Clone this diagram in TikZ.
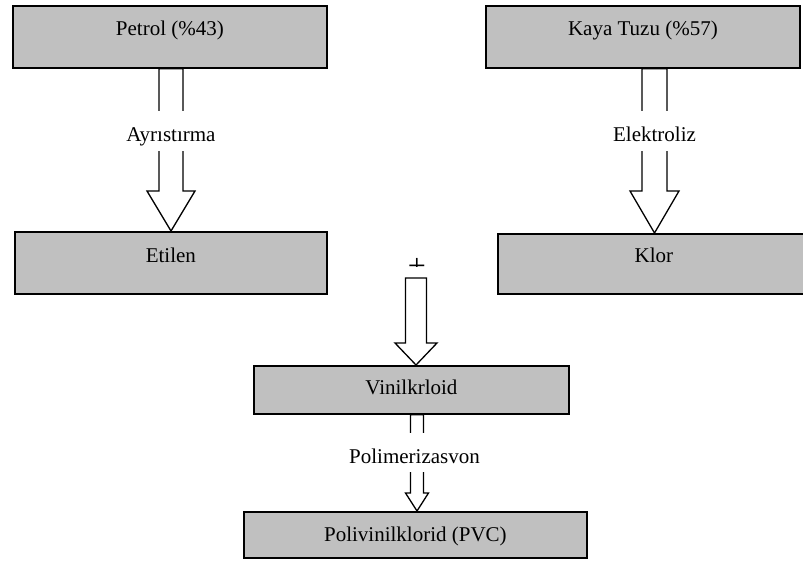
\documentclass[tikz,border=0pt]{standalone}
\usepackage{fontspec}
\setmainfont{Liberation Serif}
\usetikzlibrary{calc}
\definecolor{boxgray}{RGB}{192,192,192}
\tikzset{
  box/.style={draw=black, line width=1.8pt, fill=boxgray, anchor=north west, inner sep=0pt},
  boxtext/.style={anchor=base, inner sep=0pt, font=\fontsize{21}{25}\selectfont},
  steplabel/.style={anchor=base, inner sep=0pt, fill=white, text height=30pt, text depth=10pt, font=\fontsize{21}{25}\selectfont},
  blk/.style={draw=black, fill=white, line width=1.3pt, line join=miter},
}
% #1 top point, #2 tip point, #3 half shaft width, #4 half head width, #5 head length
\newcommand\blockarrow[5]{%
  \draw[blk] ($(#2|-#1)+(-#3,0)$) -- ($(#2)+(-#3,-#5)$) -- ($(#2)+(-#4,-#5)$) -- (#2)
    -- ($(#2)+(#4,-#5)$) -- ($(#2)+(#3,-#5)$) -- ($(#2|-#1)+(#3,0)$) -- cycle;}
\begin{document}
\begin{tikzpicture}[x=1pt, y=-1pt]
\useasboundingbox (0,0) rectangle (803,561);
\clip (0,0) rectangle (803,561);
% boxes
\node[box, minimum width=314pt, minimum height=62pt] (petrol) at (12,5) {};
\node[box, minimum width=312pt, minimum height=62pt] (etilen) at (14,231) {};
\node[box, minimum width=314pt, minimum height=62pt] (kaya) at (485,5) {};
\node[box, minimum width=312pt, minimum height=60pt] (klor) at (497,233) {};
\node[box, minimum width=315pt, minimum height=48pt] (vinil) at (253,365) {};
\node[box, minimum width=343pt, minimum height=46pt] (pvc) at (243,511) {};
% box texts
\node[boxtext] (petrolT) at ([yshift=-31pt]petrol.north) {Petrol (\%43)};
\node[boxtext] (etilenT) at ([yshift=-32pt]etilen.north) {Etilen};
\node[boxtext] (kayaT) at ([yshift=-31pt]kaya.north) {Kaya Tuzu (\%57)};
\node[boxtext] (klorT) at ([yshift=-30pt]klor.north) {Klor};
\node[boxtext] (vinilT) at ([yshift=-29pt]vinil.north) {Vinilkrloid};
\node[boxtext] (pvcT) at ([yshift=-30pt]pvc.north) {Polivinilklorid (PVC)};
% arrow tips and free end
\coordinate (tip1) at (171,231);
\coordinate (tip2) at (654.5,233);
\coordinate (top3) at (416,278);
\coordinate (tip3) at (416,365);
\coordinate (tip4) at (417,511);
% arrows
\blockarrow{petrol.south}{tip1}{12}{24}{40}
\blockarrow{kaya.south}{tip2}{12.5}{24.5}{42}
\blockarrow{top3}{tip3}{10.5}{21}{22}
\blockarrow{vinil.south}{tip4}{6.5}{11.5}{18}
% step labels
\node[steplabel, text height=31pt, text depth=9pt] (ayr) at (171,142) {Ayrıstırma};
\node[steplabel, text height=31pt, text depth=9pt] (elek) at (654.5,142) {Elektroliz};
\node[steplabel, text height=30pt, text depth=9pt] (poli) at (414.5,463) {Polimerizasvon};
% plus sign, lower half hidden
\begin{scope}
\clip (395,245) rectangle (440,266.5);
\node[anchor=base, inner sep=0pt, font=\fontsize{32}{32}\selectfont] (plus) at (417,277) {+};
\end{scope}
\end{tikzpicture}
\end{document}
